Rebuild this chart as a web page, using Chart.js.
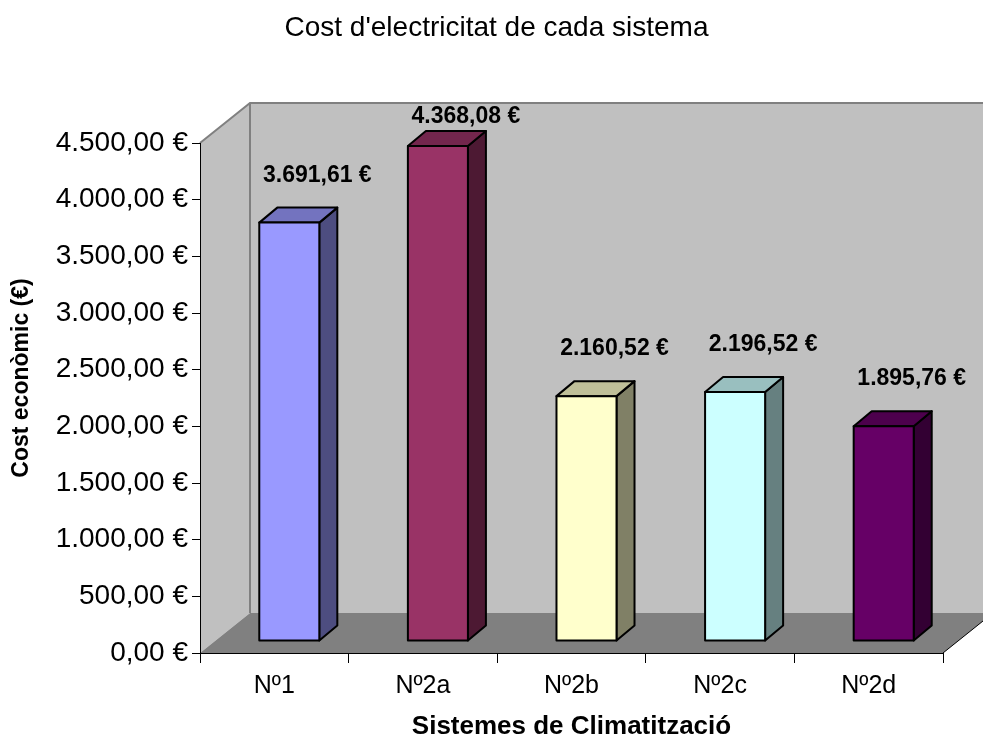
<html><head>
<meta charset="UTF-8">
<title>Cost d'electricitat de cada sistema</title>
<script src="https://cdn.jsdelivr.net/npm/chart.js"></script>
<style>
    body { margin: 0; background: #fff; }
    #chart { display: block; }
</style>
</head>
<body>
<canvas id="chart" width="983" height="740"></canvas>
<script>
    // chart data
    const titol = "Cost d'electricitat de cada sistema";
    const sistemes = ['Nº1', 'Nº2a', 'Nº2b', 'Nº2c', 'Nº2d'];
    const costos = [3691.61, 4368.08, 2160.52, 2196.52, 1895.76];
    const yTicks = [0, 500, 1000, 1500, 2000, 2500, 3000, 3500, 4000, 4500];

    // excel-like 3d colours: front, top, side
    const frontColors = ['#9999FF', '#993366', '#FFFFCC', '#CCFFFF', '#660066'];
    const topColors   = ['#7373BF', '#73264D', '#BFBF99', '#99BFBF', '#4D004D'];
    const sideColors  = ['#4D4D80', '#4D1933', '#808066', '#668080', '#330033'];

    const FONT = "'Liberation Sans', Arial, sans-serif";
    const WALL = {dx: 50, dy: -40};     // depth of the floor / side wall
    const SHIFT = {dx: 15, dy: -12};    // where the bars sit in depth
    const BOX = {dx: 18, dy: -15};      // depth of each bar

    function euro(v) {
        const parts = v.toFixed(2).split('.');
        const ent = parts[0].replace(/\B(?=(\d{3})+(?!\d))/g, '.');
        return ent + ',' + parts[1] + ' €';
    }

    function poly(ctx, pts, fill, stroke, lw) {
        ctx.beginPath();
        ctx.moveTo(pts[0][0], pts[0][1]);
        for (let i = 1; i < pts.length; i++) ctx.lineTo(pts[i][0], pts[i][1]);
        ctx.closePath();
        if (fill) { ctx.fillStyle = fill; ctx.fill(); }
        if (stroke) { ctx.strokeStyle = stroke; ctx.lineWidth = lw; ctx.stroke(); }
    }

    const walls3d = {
        id: 'walls3d',
        beforeDraw(chart) {
            const ctx = chart.ctx;
            const {left, right, top, bottom} = chart.chartArea;
            ctx.save();
            // back wall
            poly(ctx, [[left + WALL.dx, top + WALL.dy], [right + WALL.dx, top + WALL.dy],
                       [right + WALL.dx, bottom + WALL.dy], [left + WALL.dx, bottom + WALL.dy]], '#C0C0C0');
            // side wall
            poly(ctx, [[left, top], [left + WALL.dx, top + WALL.dy],
                       [left + WALL.dx, bottom + WALL.dy], [left, bottom]], '#C0C0C0');
            // floor
            poly(ctx, [[left, bottom], [left + WALL.dx, bottom + WALL.dy],
                       [right + WALL.dx, bottom + WALL.dy], [right, bottom]], '#808080');
            // edges
            ctx.lineWidth = 2;
            ctx.strokeStyle = '#808080';
            ctx.beginPath();
            ctx.moveTo(left, top);
            ctx.lineTo(left + WALL.dx, top + WALL.dy);
            ctx.lineTo(right + WALL.dx, top + WALL.dy);
            ctx.moveTo(left + WALL.dx, top + WALL.dy);
            ctx.lineTo(left + WALL.dx, bottom + WALL.dy);
            ctx.stroke();
            ctx.lineWidth = 1;
            ctx.strokeStyle = '#000';
            ctx.beginPath();
            ctx.moveTo(right, bottom);
            ctx.lineTo(right + WALL.dx, bottom + WALL.dy);
            ctx.stroke();

            // chart title
            ctx.fillStyle = '#000';
            ctx.font = '28px ' + FONT;
            ctx.textAlign = 'center';
            ctx.textBaseline = 'alphabetic';
            ctx.fillText(titol, chart.width / 2 + 5, 36);

            // y axis title, centred on the whole 3d box like excel does
            ctx.translate(22, (top + WALL.dy + bottom) / 2);
            ctx.rotate(-Math.PI / 2);
            ctx.font = 'bold 23px ' + FONT;
            ctx.textBaseline = 'middle';
            ctx.fillText('Cost econòmic (€)', 0, 0);
            ctx.restore();
        },
        afterDatasetsDraw(chart) {
            const ctx = chart.ctx;
            const meta = chart.getDatasetMeta(0);
            ctx.save();
            ctx.lineJoin = 'round';
            meta.data.forEach((bar, i) => {
                const p = bar.getProps(['x', 'y', 'base', 'width'], true);
                const x0 = p.x - p.width / 2 + SHIFT.dx;
                const x1 = p.x + p.width / 2 + SHIFT.dx;
                const yt = p.y + SHIFT.dy;
                const yb = p.base + SHIFT.dy;
                poly(ctx, [[x1, yt], [x1 + BOX.dx, yt + BOX.dy], [x1 + BOX.dx, yb + BOX.dy], [x1, yb]],
                     sideColors[i], '#000', 2);
                poly(ctx, [[x0, yt], [x0 + BOX.dx, yt + BOX.dy], [x1 + BOX.dx, yt + BOX.dy], [x1, yt]],
                     topColors[i], '#000', 2);
                poly(ctx, [[x0, yt], [x1, yt], [x1, yb], [x0, yb]], frontColors[i], '#000', 2);
            });
            // value labels
            const top = chart.chartArea.top;
            ctx.fillStyle = '#000';
            ctx.font = 'bold 23px ' + FONT;
            ctx.textAlign = 'center';
            ctx.textBaseline = 'middle';
            meta.data.forEach((bar, i) => {
                const ly = Math.max(bar.y - 59, top - 26);
                ctx.fillText(euro(costos[i]), bar.x + 43, ly);
            });
            ctx.restore();
        }
    };

    new Chart(document.getElementById('chart'), {
        type: 'bar',
        data: {
            labels: sistemes,
            datasets: [{
                label: 'Cost',
                data: costos,
                backgroundColor: 'rgba(0,0,0,0)',
                borderWidth: 0,
                categoryPercentage: 1,
                barPercentage: 0.404
            }]
        },
        options: {
            responsive: false,
            animation: false,
            layout: { padding: { left: 0, right: 40, top: 143, bottom: 0 } },
            plugins: {
                legend: { display: false },
                tooltip: { enabled: false },
                title: { display: false }
            },
            scales: {
                x: {
                    afterFit(scale) { scale.height = 87; },
                    grid: { display: true, drawOnChartArea: false, offset: true, color: '#000', tickLength: 10 },
                    border: { display: true, color: '#000', width: 1 },
                    ticks: { color: '#000', padding: 8, font: { family: FONT, size: 25 } },
                    title: {
                        display: true,
                        text: 'Sistemes de Climatització',
                        color: '#000',
                        font: { family: FONT, size: 26, weight: 'bold', lineHeight: 1 },
                        padding: { top: 0, bottom: 0 }
                    }
                },
                y: {
                    min: 0,
                    max: 4500,
                    afterFit(scale) { scale.width = 200; },
                    afterBuildTicks(scale) { scale.ticks = yTicks.map(v => ({ value: v })); },
                    grid: { display: true, drawOnChartArea: false, color: '#000', tickLength: 8 },
                    border: { display: true, color: '#000', width: 1 },
                    ticks: {
                        color: '#000',
                        padding: 4,
                        font: { family: FONT, size: 28 },
                        callback: v => euro(v)
                    }
                }
            }
        },
        plugins: [walls3d]
    });
</script>
</body></html>
